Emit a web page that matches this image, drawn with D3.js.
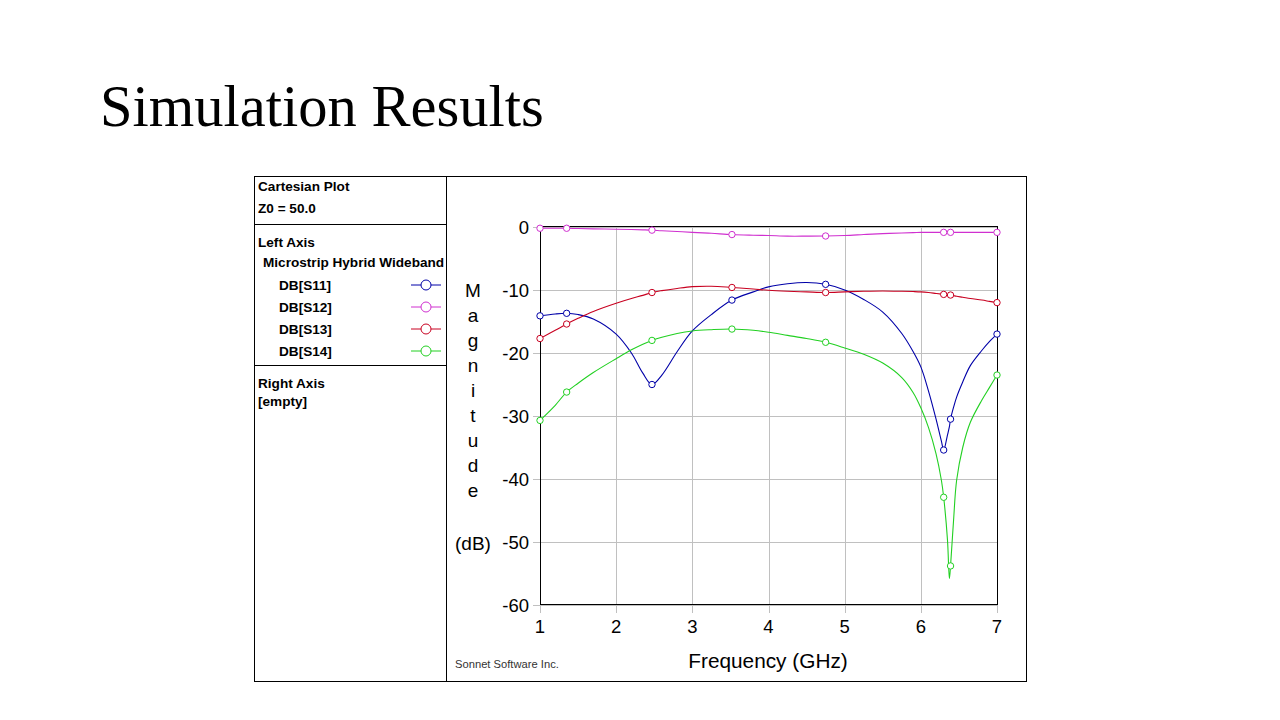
<!DOCTYPE html>
<html>
<head>
<meta charset="utf-8">
<script src="https://cdn.jsdelivr.net/npm/d3@7"></script>
<style>
  html, body { margin: 0; padding: 0; background: #fff; }
  svg { display: block; }
</style>
</head>
<body>
<svg id="chart"></svg>
<script>
// frequencies (GHz)
const freq = [1, 1.2, 1.35, 1.5, 1.7, 2.0, 2.2, 2.35, 2.47, 2.6, 2.8, 3.0, 3.25, 3.52, 3.8, 4.0, 4.25, 4.5, 4.75,
  5.0, 5.25, 5.5, 5.75, 5.9, 6.0, 6.1, 6.2, 6.27, 6.3, 6.35, 6.375, 6.39, 6.43, 6.47, 6.55, 6.65, 6.8, 6.9, 7.0];

// analysis points shown with circles
const markerFreq = [1, 1.35, 2.47, 3.52, 4.75, 6.3, 6.39, 7.0];

const s11 = [-14.1, -13.8, -13.7, -13.9, -14.6, -17.0, -20.0, -23.2, -25.0, -23.5, -19.8, -16.5, -13.9, -11.6, -10.3,
  -9.5, -9.0, -8.8, -9.1, -10.0, -11.5, -13.5, -16.9, -19.8, -22.2, -26.0, -30.5, -34.0, -35.4, -33.0, -31.7, -30.5,
  -28.6, -27.0, -24.6, -22.0, -19.6, -18.2, -17.0];

const s12 = [-0.2, -0.2, -0.2, -0.25, -0.3, -0.35, -0.4, -0.45, -0.5, -0.6, -0.72, -0.85, -1.0, -1.2, -1.3,
  -1.35, -1.45, -1.45, -1.43, -1.35, -1.2, -1.05, -0.95, -0.9, -0.85, -0.85, -0.85, -0.85, -0.85, -0.85, -0.85, -0.85,
  -0.85, -0.85, -0.85, -0.85, -0.85, -0.85, -0.85];

const s13 = [-17.7, -16.4, -15.4, -14.5, -13.4, -12.1, -11.35, -10.85, -10.4, -10.1, -9.75, -9.47, -9.4, -9.6, -9.85,
  -10.05, -10.2, -10.3, -10.4, -10.3, -10.2, -10.15, -10.2, -10.25, -10.3, -10.4, -10.55, -10.65, -10.7, -10.75, -10.78, -10.8,
  -10.9, -11.0, -11.15, -11.35, -11.6, -11.8, -12.0];

const s14 = [-30.7, -28.3, -26.2, -24.8, -23.1, -20.9, -19.5, -18.6, -18.0, -17.5, -16.9, -16.5, -16.3, -16.2, -16.4,
  -16.7, -17.2, -17.7, -18.3, -19.2, -20.2, -21.6, -23.9, -26.3, -28.7, -31.8, -36.0, -40.2, -42.9, -49.7, -55.8, -53.8,
  -46.5, -40.2, -35.0, -31.0, -27.5, -25.5, -23.5];

const seriesNames = ["DB[S11]", "DB[S12]", "DB[S13]", "DB[S14]"];
const seriesColors = ["#0000a8", "#d030d0", "#c80020", "#22d022"];
const seriesValues = [s11, s12, s13, s14];

const xTicks = [1, 2, 3, 4, 5, 6, 7];
const yTicks = [0, -10, -20, -30, -40, -50, -60];
const yLabelLetters = ["M", "a", "g", "n", "i", "t", "u", "d", "e"];

const width = 1280, height = 720;

const svg = d3.select("#chart")
  .attr("width", width)
  .attr("height", height);

// slide title
svg.append("text")
  .attr("x", 100)
  .attr("y", 126)
  .attr("font-family", "'Liberation Serif', 'Times New Roman', serif")
  .attr("font-size", 58.5)
  .attr("fill", "#000")
  .text("Simulation Results");

// panel frame
const panel = svg.append("g").attr("shape-rendering", "crispEdges");
panel.append("rect")
  .attr("x", 254.5).attr("y", 176.5)
  .attr("width", 772).attr("height", 505)
  .attr("fill", "#fff").attr("stroke", "#000");
panel.append("line").attr("x1", 446.5).attr("x2", 446.5).attr("y1", 176).attr("y2", 682).attr("stroke", "#000");
panel.append("line").attr("x1", 254).attr("x2", 446).attr("y1", 224.5).attr("y2", 224.5).attr("stroke", "#000");
panel.append("line").attr("x1", 254).attr("x2", 446).attr("y1", 365.5).attr("y2", 365.5).attr("stroke", "#000");

// left info panel
const info = svg.append("g")
  .attr("font-family", "'Liberation Sans', Arial, sans-serif")
  .attr("font-weight", "bold")
  .attr("font-size", 13.6)
  .attr("fill", "#000");

const infoLines = [
  { t: "Cartesian Plot", x: 258, y: 191 },
  { t: "Z0 = 50.0", x: 258, y: 213 },
  { t: "Left Axis", x: 258, y: 247 },
  { t: "Microstrip Hybrid Wideband", x: 263, y: 267 },
  { t: "Right Axis", x: 258, y: 388 },
  { t: "[empty]", x: 258, y: 406 }
];
info.selectAll("text.info")
  .data(infoLines)
  .join("text")
  .attr("class", "info")
  .attr("x", d => d.x)
  .attr("y", d => d.y)
  .text(d => d.t);

const legendRow = d3.scaleLinear().domain([0, 1]).range([285, 307]);
const legend = info.selectAll("g.leg")
  .data(seriesNames)
  .join("g")
  .attr("class", "leg")
  .attr("transform", (d, i) => `translate(0,${legendRow(i)})`);
legend.append("text")
  .attr("x", 279)
  .attr("y", 5)
  .text(d => d);
legend.append("line")
  .attr("x1", 411).attr("x2", 441)
  .attr("y1", 0).attr("y2", 0)
  .attr("stroke", (d, i) => seriesColors[i])
  .attr("stroke-width", 1);
legend.append("circle")
  .attr("cx", 426).attr("cy", 0).attr("r", 5)
  .attr("fill", "#fff")
  .attr("stroke", (d, i) => seriesColors[i])
  .attr("stroke-width", 1);

// plot area
const margin = { left: 540, right: 997, top: 227, bottom: 605 };

const x = d3.scaleLinear()
  .domain([1, 7])
  .range([margin.left, margin.right]);

const y = d3.scaleLinear()
  .domain([0, -60])
  .range([margin.top, margin.bottom]);

const grid = svg.append("g").attr("shape-rendering", "crispEdges");

grid.selectAll("line.vx")
  .data(xTicks)
  .join("line")
  .attr("class", "vx")
  .attr("x1", d => Math.round(x(d)) + 0.5).attr("x2", d => Math.round(x(d)) + 0.5)
  .attr("y1", margin.top).attr("y2", margin.bottom + 8)
  .attr("stroke", "#c0c0c0");

grid.selectAll("line.hy")
  .data(yTicks)
  .join("line")
  .attr("class", "hy")
  .attr("x1", margin.left - 7).attr("x2", margin.right)
  .attr("y1", d => Math.round(y(d)) + 0.5).attr("y2", d => Math.round(y(d)) + 0.5)
  .attr("stroke", "#c0c0c0");

// tick labels
const tickFont = "'Liberation Sans', Arial, sans-serif";
svg.append("g")
  .selectAll("text")
  .data(yTicks)
  .join("text")
  .attr("x", 529)
  .attr("y", d => y(d) + 6.5)
  .attr("text-anchor", "end")
  .attr("font-family", tickFont)
  .attr("font-size", 18.5)
  .text(d => d);

svg.append("g")
  .selectAll("text")
  .data(xTicks)
  .join("text")
  .attr("x", d => x(d))
  .attr("y", 633)
  .attr("text-anchor", "middle")
  .attr("font-family", tickFont)
  .attr("font-size", 18.5)
  .text(d => d);

// axis titles
svg.append("g")
  .selectAll("text")
  .data(yLabelLetters)
  .join("text")
  .attr("x", 473)
  .attr("y", (d, i) => 297 + i * 25)
  .attr("text-anchor", "middle")
  .attr("font-family", tickFont)
  .attr("font-size", 19)
  .text(d => d);

svg.append("text")
  .attr("x", 473)
  .attr("y", 550)
  .attr("text-anchor", "middle")
  .attr("font-family", tickFont)
  .attr("font-size", 19)
  .text("(dB)");

svg.append("text")
  .attr("x", 768)
  .attr("y", 668)
  .attr("text-anchor", "middle")
  .attr("font-family", tickFont)
  .attr("font-size", 20.8)
  .text("Frequency (GHz)");

svg.append("text")
  .attr("x", 455)
  .attr("y", 668)
  .attr("font-family", tickFont)
  .attr("font-size", 11.2)
  .attr("fill", "#333")
  .text("Sonnet Software Inc.");

// curves
svg.append("clipPath").attr("id", "plotclip")
  .append("rect")
  .attr("x", margin.left).attr("y", margin.top - 4)
  .attr("width", margin.right - margin.left + 1)
  .attr("height", margin.bottom - margin.top + 8);

const line = d3.line()
  .x((d, i) => x(freq[i]))
  .y(d => y(d))
  .curve(d3.curveCatmullRom.alpha(0.5));

const curves = svg.append("g").attr("clip-path", "url(#plotclip)");
curves.selectAll("path")
  .data(seriesValues)
  .join("path")
  .attr("d", d => line(d))
  .attr("fill", "none")
  .attr("stroke", (d, i) => seriesColors[i])
  .attr("stroke-width", 1.1);

// frame
svg.append("rect")
  .attr("x", margin.left + 0.5).attr("y", margin.top - 0.5)
  .attr("width", margin.right - margin.left).attr("height", margin.bottom - margin.top)
  .attr("fill", "none").attr("stroke", "#000")
  .attr("shape-rendering", "crispEdges");

// markers at analysis points
const markerIdx = markerFreq.map(f => freq.indexOf(f));
seriesValues.forEach((vals, si) => {
  svg.append("g")
    .selectAll("circle")
    .data(markerIdx)
    .join("circle")
    .attr("cx", i => x(freq[i]))
    .attr("cy", i => y(vals[i]))
    .attr("r", 3.2)
    .attr("fill", "#fff")
    .attr("stroke", seriesColors[si])
    .attr("stroke-width", 1);
});
</script>
</body>
</html>
